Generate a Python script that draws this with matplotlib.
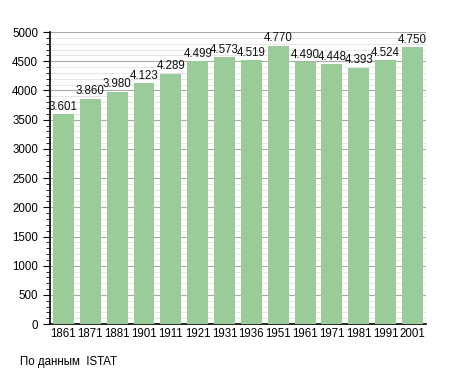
import matplotlib
matplotlib.use("Agg")
import matplotlib.pyplot as plt
from matplotlib.ticker import MultipleLocator

plt.rcParams["font.family"] = ["Liberation Sans", "DejaVu Sans"]

years = ["1861", "1871", "1881", "1901", "1911", "1921", "1931", "1936",
         "1951", "1961", "1971", "1981", "1991", "2001"]
population = [3601, 3860, 3980, 4123, 4289, 4499, 4573, 4519,
              4770, 4490, 4448, 4393, 4524, 4750]

fig = plt.figure(figsize=(4.55, 3.73), dpi=100)
ax = fig.add_axes([0.110, 0.131, 0.826, 0.783])

x = list(range(len(years)))
ax.bar(x, population, width=0.78, color="#99cc99", zorder=3)
for xi, v in zip(x, population):
    ax.text(xi, v + 20, f"{v/1000:.3f}", ha="center", va="bottom",
            fontsize=8.3, color="#111111", zorder=4)

ax.set_xlim(-0.5, len(years) - 0.5)
ax.set_ylim(0, 5000)
ax.set_xticks(x)
ax.set_xticklabels(years)
ax.yaxis.set_major_locator(MultipleLocator(500))
ax.yaxis.set_minor_locator(MultipleLocator(100))
ax.grid(axis="y", which="major", color="#aaaaaa", linewidth=0.8, zorder=0)
ax.grid(axis="y", which="minor", color="#e2e2e2", linewidth=0.6, zorder=0)
ax.set_axisbelow(True)

for s in ["top", "right"]:
    ax.spines[s].set_visible(False)
ax.spines["left"].set_linewidth(1.2)
ax.spines["bottom"].set_linewidth(1.2)
ax.tick_params(axis="x", length=0, labelsize=8.3, pad=3)
ax.tick_params(axis="y", which="major", length=5, labelsize=8.3)
ax.tick_params(axis="y", which="minor", length=3)

fig.text(20 / 455, 1 - 362 / 373, "По данным  ISTAT", fontsize=8.3,
         ha="left", va="center")

fig.savefig("out.png", dpi=100)
